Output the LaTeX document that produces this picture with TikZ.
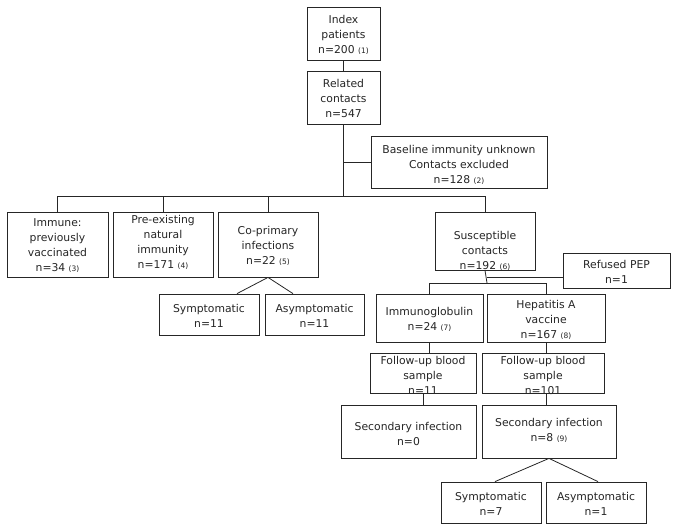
\documentclass[tikz,border=0pt]{standalone}
\usepackage{fontspec}
\setmainfont{DejaVu Sans}
\usetikzlibrary{calc}
\newcommand{\fn}[1]{{\fontsize{7.5}{9}\selectfont #1}}
\tikzset{
  box/.style={draw=black!85, line width=0.8pt, inner sep=0pt, fill=white},
  txt/.style={align=center, inner sep=0pt, font=\fontsize{10.8}{15}\selectfont, text=black!85},
  conn/.style={draw=black!85, line width=0.8pt}
}
\begin{document}
\begin{tikzpicture}[x=1pt,y=-1pt]
\useasboundingbox (0,0) rectangle (677,530);
% boxes
\node[box, minimum width=73, minimum height=53] (idx) at (343.5,33.5) {};
\node[box, minimum width=73, minimum height=53] (rel) at (343.5,97.5) {};
\node[box, minimum width=176, minimum height=52] (base) at (459,162) {};
\node[box, minimum width=101, minimum height=65] (imm) at (57.5,244.5) {};
\node[box, minimum width=100, minimum height=65] (pre) at (163,244.5) {};
\node[box, minimum width=100, minimum height=65] (co) at (268,244.5) {};
\node[box, minimum width=100, minimum height=41] (sym1) at (209,314.5) {};
\node[box, minimum width=99, minimum height=41] (asym1) at (314.5,314.5) {};
\node[box, minimum width=100, minimum height=58] (sus) at (485,241) {};
\node[box, minimum width=107, minimum height=35] (ref) at (616.5,270.5) {};
\node[box, minimum width=107, minimum height=48] (ig) at (429.5,318) {};
\node[box, minimum width=118, minimum height=48] (hep) at (546,318) {};
\node[box, minimum width=106, minimum height=40] (fu1) at (423,373) {};
\node[box, minimum width=122, minimum height=40] (fu2) at (543,373) {};
\node[box, minimum width=135, minimum height=53] (sec1) at (408.5,431.5) {};
\node[box, minimum width=134, minimum height=53] (sec2) at (549,431.5) {};
\node[box, minimum width=100, minimum height=41] (sym2) at (491,502.5) {};
\node[box, minimum width=100, minimum height=41] (asym2) at (596,502.5) {};
% texts
\node[txt] (tidx) at (343.5,35) {Index\\patients\\n=200 \fn{(1)}};
\node[txt] (trel) at (343.5,98.5) {Related\\contacts\\n=547};
\node[txt] (tbase) at (459,164.5) {Baseline immunity unknown\\Contacts excluded\\n=128 \fn{(2)}};
\node[txt] (timm) at (57.5,246) {Immune:\\previously\\vaccinated\\n=34 \fn{(3)}};
\node[txt] (tpre) at (163,242.5) {Pre-existing\\natural\\immunity\\n=171 \fn{(4)}};
\node[txt] (tco) at (268,246) {Co-primary\\infections\\n=22 \fn{(5)}};
\node[txt] (tsym1) at (209,316) {Symptomatic\\n=11};
\node[txt] (tasym1) at (314.5,316) {Asymptomatic\\n=11};
\node[txt] (tsus) at (485,251) {Susceptible\\contacts\\n=192 \fn{(6)}};
\node[txt] (tref) at (616.5,272) {Refused PEP\\n=1};
\node[txt] (tig) at (429.5,319) {Immunoglobulin\\n=24 \fn{(7)}};
\node[txt] (thep) at (546,319.5) {Hepatitis A\\vaccine\\n=167 \fn{(8)}};
\node[txt] (tfu1) at (423,375) {Follow-up blood\\sample\\n=11};
\node[txt] (tfu2) at (543,375) {Follow-up blood\\sample\\n=101};
\node[txt] (tsec1) at (408.5,433.5) {Secondary infection\\n=0};
\node[txt] (tsec2) at (549,430) {Secondary infection\\n=8 \fn{(9)}};
\node[txt] (tsym2) at (491,503.5) {Symptomatic\\n=7};
\node[txt] (tasym2) at (596,503.5) {Asymptomatic\\n=1};
% junction coordinates
\coordinate (j1) at (342,196);
\coordinate (jr) at (487,277);
\coordinate (j2) at (487,283);
% connectors
\draw[conn] (idx.south) -- (rel.north);
\draw[conn] (rel.south) -- (rel.south |- j1);
\draw[conn] (rel.south |- base.west) -- (base.west);
\draw[conn] (imm.north |- j1) -- (sus.north |- j1);
\draw[conn] (imm.north |- j1) -- (imm.north);
\draw[conn] (pre.north |- j1) -- (pre.north);
\draw[conn] (co.north |- j1) -- (co.north);
\draw[conn] (sus.north |- j1) -- (sus.north);
\draw[conn] (co.south) -- ($(sym1.north)+(28,0)$);
\draw[conn] (co.south) -- ($(asym1.north)+(-21.5,0)$);
\draw[conn] (sus.south) -- (j2);
\draw[conn] (jr) -- (jr -| ref.west);
\draw[conn] (ig.north |- j2) -- (hep.north |- j2);
\draw[conn] (ig.north |- j2) -- (ig.north);
\draw[conn] (hep.north |- j2) -- (hep.north);
\draw[conn] (ig.south) -- (ig.south |- fu1.north);
\draw[conn] (hep.south) -- (hep.south |- fu2.north);
\draw[conn] (fu1.south) -- (fu1.south |- sec1.north);
\draw[conn] (hep.south |- fu2.south) -- (hep.south |- sec2.north);
\draw[conn] (sec2.south) -- ($(sym2.north)+(4,0)$);
\draw[conn] (sec2.south) -- ($(asym2.north)+(2,0)$);
\end{tikzpicture}
\end{document}
